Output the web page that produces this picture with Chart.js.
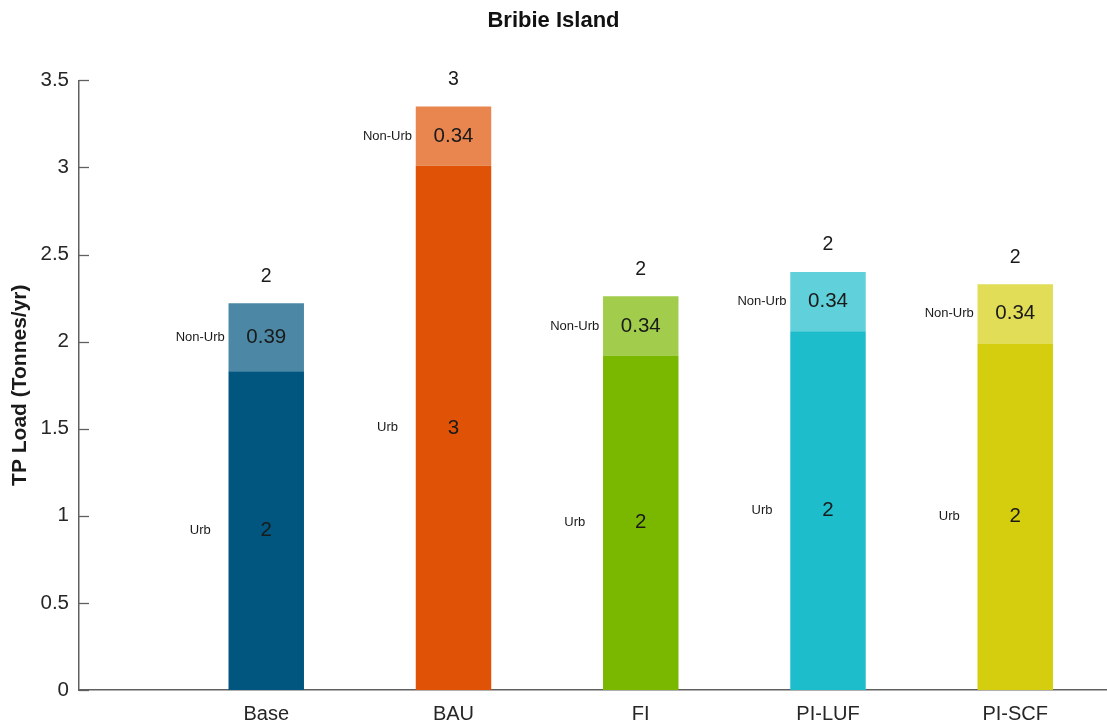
<!DOCTYPE html>
<html>
<head>
<meta charset="utf-8">
<script src="https://cdn.jsdelivr.net/npm/chart.js@4.4.1/dist/chart.umd.min.js"></script>
<style>
  html, body { margin: 0; padding: 0; background: #fff; }
  #wrap { width: 1107px; height: 727px; }
</style>
</head>
<body>
<div id="wrap"><canvas id="myChart"></canvas></div>
<script>
// scenarios and loads (tonnes/yr)
const categories = ['Base', 'BAU', 'FI', 'PI-LUF', 'PI-SCF'];
const urbLoad = [1.83, 3.01, 1.92, 2.06, 1.99];
const nonUrbLoad = [0.39, 0.34, 0.34, 0.34, 0.34];
const yTicks = [0, 0.5, 1, 1.5, 2, 2.5, 3, 3.5];

const barColors = ['#00567F', '#E05206', '#7AB800', '#1DBDCB', '#D4CE0F'];
const lightColors = barColors.map(c => c + 'B3'); // same hue, 70% opacity

const axisColor = '#606060';

// labels on and beside the bars
const barLabels = {
    id: 'barLabels',
    afterDatasetsDraw(chart) {
        const ctx = chart.ctx;
        const urbBars = chart.getDatasetMeta(0).data;
        const nonBars = chart.getDatasetMeta(1).data;
        ctx.save();
        ctx.textAlign = 'center';
        ctx.textBaseline = 'middle';
        categories.forEach((c, i) => {
            const u = urbBars[i], n = nonBars[i];
            const uMid = (u.y + u.base) / 2;
            const nMid = (n.y + n.base) / 2;
            const side = u.x - 66;

            ctx.fillStyle = '#1a1a1a';
            ctx.font = '13px "Liberation Sans", Arial, sans-serif';
            ctx.fillText('Urb', side, uMid);
            ctx.fillText('Non-Urb', side, nMid);

            ctx.font = '20.5px "Liberation Sans", Arial, sans-serif';
            ctx.fillText(urbLoad[i].toFixed(0), u.x, uMid);
            ctx.fillText(nonUrbLoad[i].toFixed(2), n.x, nMid);

            ctx.font = '19.5px "Liberation Sans", Arial, sans-serif';
            ctx.fillText((urbLoad[i] + nonUrbLoad[i]).toFixed(0), n.x, n.y - 27);
        });
        ctx.restore();
    }
};

// y tick marks pointing into the plot
const innerTicks = {
    id: 'innerTicks',
    afterDraw(chart) {
        const y = chart.scales.y;
        const ctx = chart.ctx;
        ctx.save();
        ctx.strokeStyle = axisColor;
        ctx.lineWidth = 1.3;
        yTicks.forEach(v => {
            const py = Math.round(y.getPixelForValue(v)) + 0.5;
            ctx.beginPath();
            ctx.moveTo(y.right, py);
            ctx.lineTo(y.right + 10, py);
            ctx.stroke();
        });
        ctx.restore();
    }
};

const data = {
    datasets: [{
        label: 'Urb',
        data: urbLoad.map((v, i) => ({ x: i + 1, y: v })),
        backgroundColor: barColors
    }, {
        label: 'Non-Urb',
        data: nonUrbLoad.map((v, i) => ({ x: i + 1, y: v })),
        backgroundColor: lightColors
    }]
};

const config = {
    type: 'bar',
    data,
    options: {
        responsive: true,
        maintainAspectRatio: false,
        animation: false,
        layout: { padding: 0 },
        datasets: {
            bar: { categoryPercentage: 1, barPercentage: 0.403, borderWidth: 0 }
        },
        scales: {
            x: {
                type: 'linear',
                stacked: true,
                offset: false,
                min: 0,
                max: 5.49,
                afterBuildTicks: (scale) => {
                    scale.ticks = categories.map((c, i) => ({ value: i + 1 }));
                },
                afterFit: (scale) => { scale.height = 37; },
                ticks: {
                    autoSkip: false,
                    maxRotation: 0,
                    padding: 12,
                    color: '#262626',
                    font: { family: '"Liberation Sans", Arial, sans-serif', size: 20 },
                    callback: (v) => categories[v - 1]
                },
                grid: { display: false, drawTicks: false },
                border: { display: true, color: axisColor, width: 1.5 }
            },
            y: {
                stacked: true,
                min: 0,
                max: 3.5,
                afterBuildTicks: (scale) => {
                    scale.ticks = yTicks.map(v => ({ value: v }));
                },
                afterFit: (scale) => { scale.width = 79; },
                ticks: {
                    padding: 10,
                    color: '#262626',
                    font: { family: '"Liberation Sans", Arial, sans-serif', size: 20.5 },
                    callback: (v) => String(v)
                },
                grid: { display: false, drawTicks: false },
                border: { display: true, color: axisColor, width: 1.5 },
                title: {
                    display: true,
                    text: 'TP Load (Tonnes/yr)',
                    color: '#1a1a1a',
                    padding: { top: 8, bottom: 0 },
                    font: { family: '"Liberation Sans", Arial, sans-serif', size: 21, weight: 'bold' }
                }
            }
        },
        plugins: {
            legend: { display: false },
            tooltip: { enabled: false },
            title: {
                display: true,
                text: 'Bribie Island',
                color: '#111',
                padding: { top: 8, bottom: 46 },
                font: { family: '"Liberation Sans", Arial, sans-serif', size: 22, weight: 'bold' }
            }
        }
    },
    plugins: [barLabels, innerTicks]
};

const myChart = new Chart(document.getElementById('myChart'), config);
</script>
</body>
</html>
